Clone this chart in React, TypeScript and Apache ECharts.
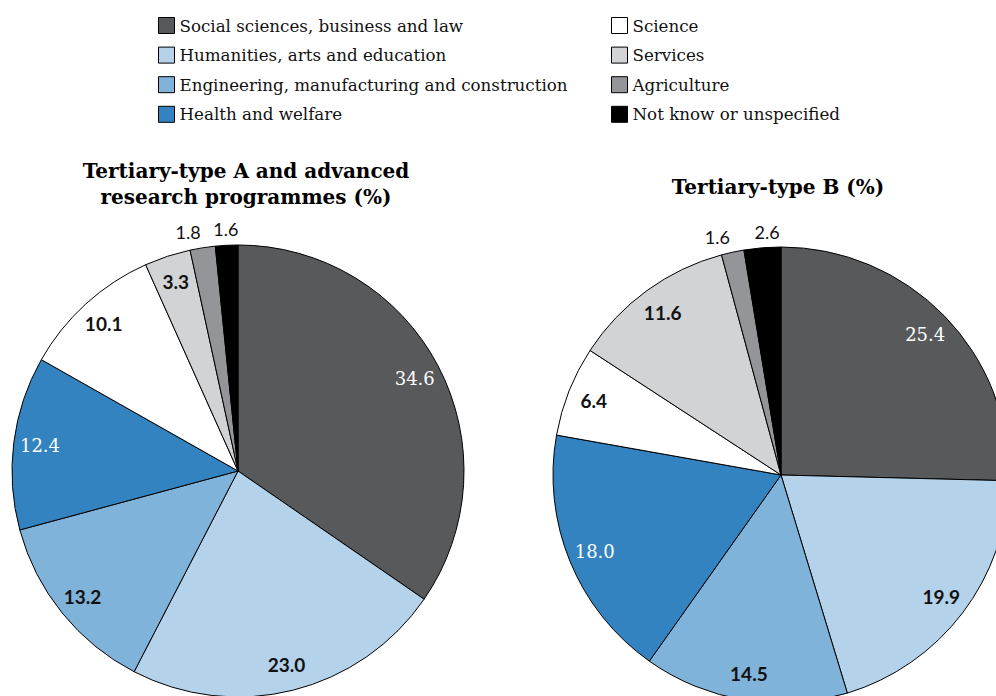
import React, { useEffect, useRef } from 'react';
import * as echarts from 'echarts';

const categories = [
  'Social sciences, business and law',
  'Humanities, arts and education',
  'Engineering, manufacturing and construction',
  'Health and welfare',
  'Science',
  'Services',
  'Agriculture',
  'Not know or unspecified',
];
const tertiaryA = [34.6, 23.0, 13.2, 12.4, 10.1, 3.3, 1.8, 1.6];
const tertiaryB = [25.4, 19.9, 14.5, 18.0, 6.4, 11.6, 1.6, 2.6];
const titleA = 'Tertiary-type A and advanced\nresearch programmes (%)';
const titleB = 'Tertiary-type B (%)';

const colors = ['#58595b', '#b4d2e9', '#80b3d9', '#3383c1', '#ffffff', '#d1d3d5', '#939598', '#000000'];
const whiteLabel = [true, false, false, true, false, false, false, false];

function buildPie(values: number[], center: [number, number], r: number, outerOffsets: Record<number, number[]>) {
  const main = {
    type: 'pie',
    center,
    radius: [0, r],
    startAngle: 90,
    clockwise: true,
    silent: true,
    emphasis: { disabled: true },
    label: { show: false },
    labelLine: { show: false },
    itemStyle: { borderColor: '#000', borderWidth: 1 },
    data: categories.map((name, i) => ({ name, value: values[i], itemStyle: { color: colors[i] } })),
  };
  const fmt = (p: any) => Number(p.value).toFixed(1);
  const inner = {
    type: 'pie',
    center,
    radius: [r * 0.74, r],
    startAngle: 90,
    clockwise: true,
    silent: true,
    emphasis: { disabled: true },
    labelLine: { show: false },
    itemStyle: { color: 'rgba(0,0,0,0)', borderWidth: 0 },
    data: categories.map((name, i) => ({
      name,
      value: values[i],
      label: whiteLabel[i]
        ? { show: values[i] >= 3, position: 'inside', formatter: fmt, color: '#ffffff', fontFamily: 'DejaVu Serif', fontSize: 18 }
        : { show: values[i] >= 3, position: 'inside', formatter: fmt, color: '#111111', fontFamily: 'Lato', fontWeight: 'bold', fontSize: 19 },
    })),
  };
  const outer = {
    type: 'pie',
    center,
    radius: [r + 2, r + 24],
    startAngle: 90,
    clockwise: true,
    silent: true,
    emphasis: { disabled: true },
    labelLine: { show: false },
    itemStyle: { color: 'rgba(0,0,0,0)', borderWidth: 0 },
    data: categories.map((name, i) => ({
      name,
      value: values[i],
      label: {
        show: values[i] < 3,
        position: 'inside',
        formatter: fmt,
        color: '#111111',
        fontFamily: 'Lato',
        fontSize: 18,
        offset: outerOffsets[i] || [0, 0],
      },
    })),
  };
  return [main, inner, outer];
}

export default function App() {
  const ref = useRef<HTMLDivElement>(null);
  useEffect(() => {
    if (!ref.current) return;
    const chart = echarts.init(ref.current, undefined, { renderer: 'svg' });
    const legendCommon = {
      orient: 'vertical',
      top: 17,
      padding: 0,
      itemWidth: 16,
      itemHeight: 16,
      itemGap: 12.6,
      itemTextGap: 13,
      icon: 'rect',
      selectedMode: false,
      itemStyle: { borderColor: '#000', borderWidth: 1 },
      textStyle: { fontFamily: 'DejaVu Serif', fontSize: 16.7, color: '#111', lineHeight: 16 },
    };
    chart.setOption({
      animation: false,
      backgroundColor: '#ffffff',
      title: [
        {
          text: titleA,
          left: 246,
          top: 158,
          textAlign: 'center',
          padding: 0,
          textStyle: { fontFamily: 'DejaVu Serif', fontWeight: 'bold', fontSize: 20, lineHeight: 26, color: '#000' },
        },
        {
          text: titleB,
          left: 778,
          top: 174,
          textAlign: 'center',
          padding: 0,
          textStyle: { fontFamily: 'DejaVu Serif', fontWeight: 'bold', fontSize: 20, lineHeight: 26, color: '#000' },
        },
      ],
      legend: [
        { ...legendCommon, left: 158, data: categories.slice(0, 4) },
        { ...legendCommon, left: 611, data: categories.slice(4) },
      ],
      series: [
        ...buildPie(tertiaryA, [238, 471], 226, { 6: [-12, 0] }),
        ...buildPie(tertiaryB, [781, 475], 228, { 6: [-12, 0], 7: [6, 0] }),
      ],
    });
    return () => chart.dispose();
  }, []);
  return <div ref={ref} style={{ position: 'fixed', left: 0, top: 0, width: 996, height: 696 }} />;
}
